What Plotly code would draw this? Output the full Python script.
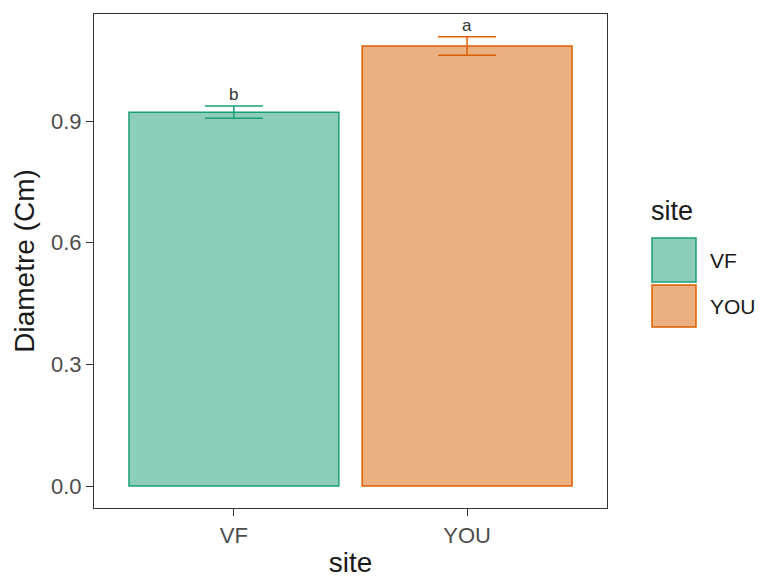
import plotly.graph_objects as go

sites = ["VF", "YOU"]
means = [0.922, 1.085]
errors = [0.015, 0.023]
letters = ["b", "a"]
line_colors = ["#1B9E77", "#D95F02"]
fill_colors = ["rgba(27,158,119,0.5)", "rgba(217,95,2,0.5)"]
y_ticks = [0.0, 0.3, 0.6, 0.9]
y_tick_labels = ["0.0", "0.3", "0.6", "0.9"]

FONT = "Liberation Sans, Arial, sans-serif"

W, H = 760, 578
ML, MR, MT, MB = 94, 153, 14, 70
PW = W - ML - MR
PH = H - MT - MB


def px_x(x):  # window x -> paper x
    return (x - ML) / PW


def px_y(y):  # window y -> paper y
    return (H - MB - y) / PH


fig = go.Figure()
for s, m, e, lc, fc in zip(sites, means, errors, line_colors, fill_colors):
    fig.add_trace(go.Bar(
        x=[s], y=[m], width=0.9, name=s,
        marker=dict(color=fc, line=dict(color=lc, width=1.5)),
        error_y=dict(type="data", array=[e], color=lc, thickness=1.5, width=29),
        showlegend=False,
    ))

for s, m, e, l in zip(sites, means, errors, letters):
    fig.add_annotation(x=s, y=m + e, text=l, showarrow=False,
                       yanchor="bottom", font=dict(family=FONT, size=17, color="#333333"))

# legend drawn manually to match large ggplot keys
fig.add_annotation(xref="paper", yref="paper", x=px_x(649), y=px_y(211), text="site",
                   showarrow=False, xanchor="left", yanchor="middle",
                   font=dict(family=FONT, size=27, color="#1a1a1a"))
key_px = [(238, 282), (285, 327)]
for s, (t, b), lc, fc in zip(sites, key_px, line_colors, fill_colors):
    fig.add_shape(type="rect", xref="paper", yref="paper", x0=px_x(652), x1=px_x(696),
                  y0=px_y(b), y1=px_y(t), fillcolor=fc, line=dict(color=lc, width=1.5))
    fig.add_annotation(xref="paper", yref="paper", x=px_x(708), y=px_y((t + b) / 2), text=s,
                       showarrow=False, xanchor="left", yanchor="middle",
                       font=dict(family=FONT, size=21, color="#1a1a1a"))

fig.update_layout(
    width=W, height=H,
    margin=dict(l=ML, r=MR, t=MT, b=MB),
    plot_bgcolor="white", paper_bgcolor="white",
    showlegend=False,
    font=dict(family=FONT),
)
fig.update_xaxes(
    range=[-0.6, 1.6], showgrid=False, zeroline=False, automargin=False,
    showline=True, linecolor="#333333", linewidth=1.2, mirror=True,
    ticks="outside", ticklen=7, tickcolor="#333333", tickwidth=1.2,
    tickfont=dict(family=FONT, size=22, color="#4d4d4d"),
    title=dict(text="site", font=dict(family=FONT, size=28, color="#1a1a1a"), standoff=9),
)
fig.update_yaxes(
    range=[-0.054, 1.164], showgrid=False, zeroline=False, automargin=False,
    tickvals=y_ticks, ticktext=y_tick_labels,
    showline=True, linecolor="#333333", linewidth=1.2, mirror=True,
    ticks="outside", ticklen=7, tickcolor="#333333", tickwidth=1.2,
    tickfont=dict(family=FONT, size=22, color="#4d4d4d"),
    title=dict(text="Diametre (Cm)", font=dict(family=FONT, size=28, color="#1a1a1a"), standoff=8),
)

fig.write_html(
    "out.html",
    config={"displayModeBar": False},
    post_script="document.body.style.margin='0';document.body.style.overflow='hidden';",
)
